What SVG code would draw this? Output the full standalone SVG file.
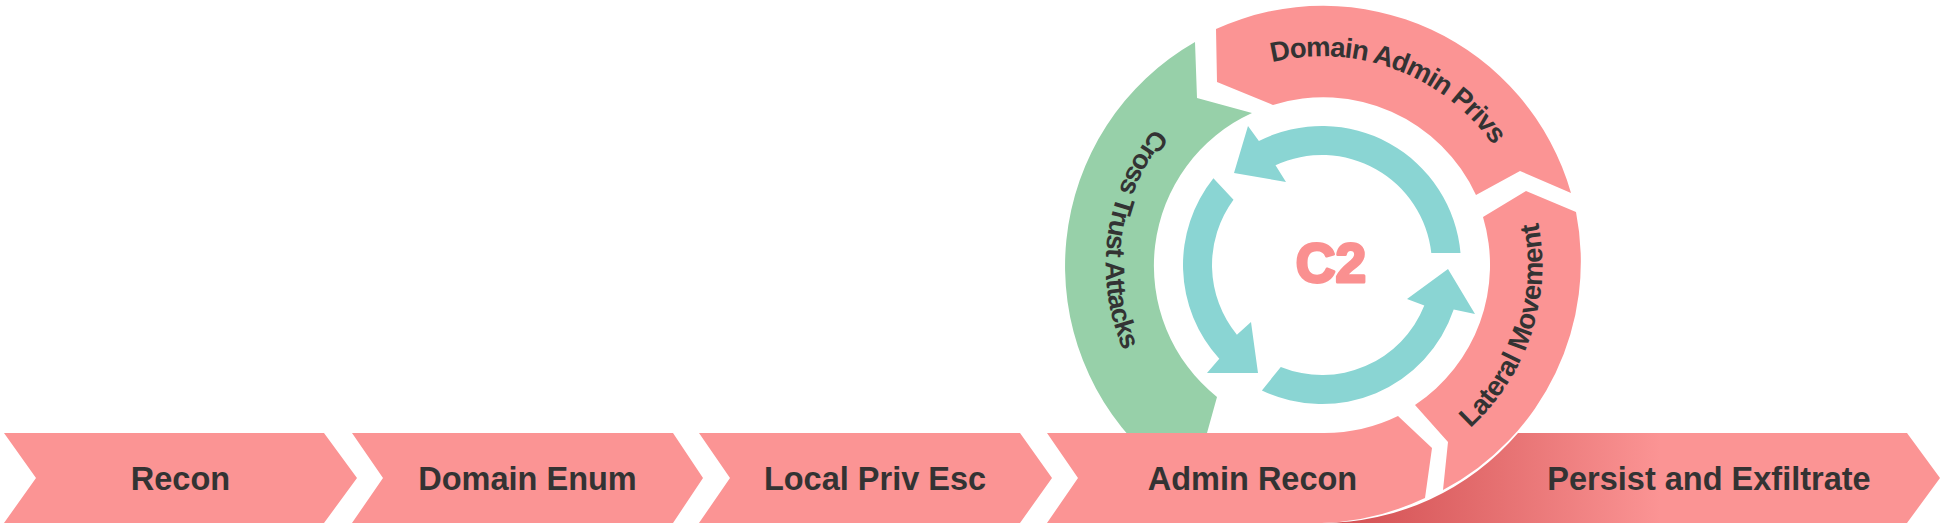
<svg xmlns="http://www.w3.org/2000/svg" width="1948" height="532" viewBox="0 0 1948 532">
  <defs>
    <linearGradient id="persistGrad" gradientUnits="userSpaceOnUse" x1="1330" y1="0" x2="1660" y2="0">
      <stop offset="0" stop-color="#D24E51"/>
      <stop offset="0.45" stop-color="#E36C6D"/>
      <stop offset="1" stop-color="#FB9494"/>
    </linearGradient>
    <path id="arcDomainAdmin" d="M 1133.4 175 A 209 209 0 0 1 1523.4 320.8"/>
    <path id="arcCross" d="M 1333.7 49.3 A 216 216 0 0 0 1273 475.4"/>
    <path id="arcLateral" d="M 1271.2 479.1 A 220 220 0 0 0 1409.2 63"/>
  </defs>
  <style>
    .pink { fill: #FB9494; }
    .green { fill: #97D0A9; }
    .teal { fill: #8AD5D3; }
    .ribbon-text { font-family: "Liberation Sans", Arial, sans-serif; font-weight: bold; font-size: 32.5px; fill: #333333; text-anchor: middle; }
    .arc-text { font-family: "Liberation Sans", Arial, sans-serif; font-weight: bold; fill: #333333; text-anchor: middle; }
    .c2 { font-family: "Liberation Sans", Arial, sans-serif; font-weight: bold; font-size: 55px; fill: #FA9090; stroke: #FA9090; stroke-width: 3; stroke-linejoin: round; text-anchor: middle; }
  </style>

  <rect width="1948" height="532" fill="#FFFFFF"/>

  <g id="persist">
    <path d="M 1518 433 L 1907 433 L 1940 478 L 1907 523 L 1322 523 A 258 258 0 0 0 1518 433 Z" fill="url(#persistGrad)"/>
    <text class="ribbon-text" x="1709" y="490">Persist and Exfiltrate</text>
  </g>

  <g id="cross-trust-attacks">
    <path class="green" d="M 1195 42 L 1197 98 L 1252 113 A 168 168 0 0 0 1217 397 L 1207 433 L 1200 460 L 1153 460 A 258 258 0 0 1 1195 42 Z"/>
    <text class="arc-text" font-size="27" letter-spacing="-1"><textPath href="#arcCross" startOffset="50%">Cross Trust Attacks</textPath></text>
  </g>

  <g id="recon">
    <path class="pink" d="M 4 433 L 324 433 L 357 478 L 324 523 L 4 523 L 36 478 Z"/>
    <text class="ribbon-text" x="180.5" y="490">Recon</text>
  </g>

  <g id="domain-enum">
    <path class="pink" d="M 352 433 L 673 433 L 703 478 L 673 523 L 352 523 L 383 478 Z"/>
    <text class="ribbon-text" x="527.5" y="490">Domain Enum</text>
  </g>

  <g id="local-priv-esc">
    <path class="pink" d="M 699 433 L 1020 433 L 1052 478 L 1020 523 L 699 523 L 730 478 Z"/>
    <text class="ribbon-text" x="875" y="490">Local Priv Esc</text>
  </g>

  <g id="admin-recon">
    <path class="pink" d="M 1047 433 L 1322 433 A 168 168 0 0 0 1398 416 L 1432 448 L 1425 498 A 258 258 0 0 1 1322 523 L 1047 523 L 1078 478 Z"/>
    <text class="ribbon-text" x="1252.5" y="490">Admin Recon</text>
  </g>

  <g id="domain-admin-privs">
    <path class="pink" d="M 1216 29 L 1217 82 L 1273 105 A 168 168 0 0 1 1476 195 L 1520 171 L 1571 193 A 258 258 0 0 0 1216 29 Z"/>
    <text class="arc-text" font-size="27.5" letter-spacing="-1"><textPath href="#arcDomainAdmin" startOffset="50%">Domain Admin Privs</textPath></text>
  </g>

  <g id="lateral-movement">
    <path class="pink" d="M 1576 212 L 1526 191 L 1483 217 A 168 168 0 0 1 1415 405 L 1448 442 L 1443 490 A 258 258 0 0 0 1576 212 Z"/>
    <text class="arc-text" font-size="27.5" letter-spacing="-0.5"><textPath href="#arcLateral" startOffset="50%">Lateral Movement</textPath></text>
  </g>

  <g id="connectors">
    <path class="teal" d="M 1460.5 253.1 A 139 139 0 0 0 1258.9 141.1 L 1248 126 L 1234 173 L 1286 182 L 1275.5 165.3 A 110 110 0 0 1 1431.3 253 Z"/>
    <path class="teal" d="M 1213.4 178.3 A 139 139 0 0 0 1219.3 358.7 L 1207 373 L 1258 373 L 1251 322 L 1236.9 334.7 A 110 110 0 0 1 1233.5 199.7 Z"/>
    <path class="teal" d="M 1261.9 390.4 A 139 139 0 0 0 1453.7 309.6 L 1475 314 L 1448 269 L 1407 299 L 1424.3 305.5 A 110 110 0 0 1 1280.8 367 Z"/>
  </g>

  <g id="c2">
    <text class="c2" x="1331" y="282">C2</text>
  </g>
</svg>
